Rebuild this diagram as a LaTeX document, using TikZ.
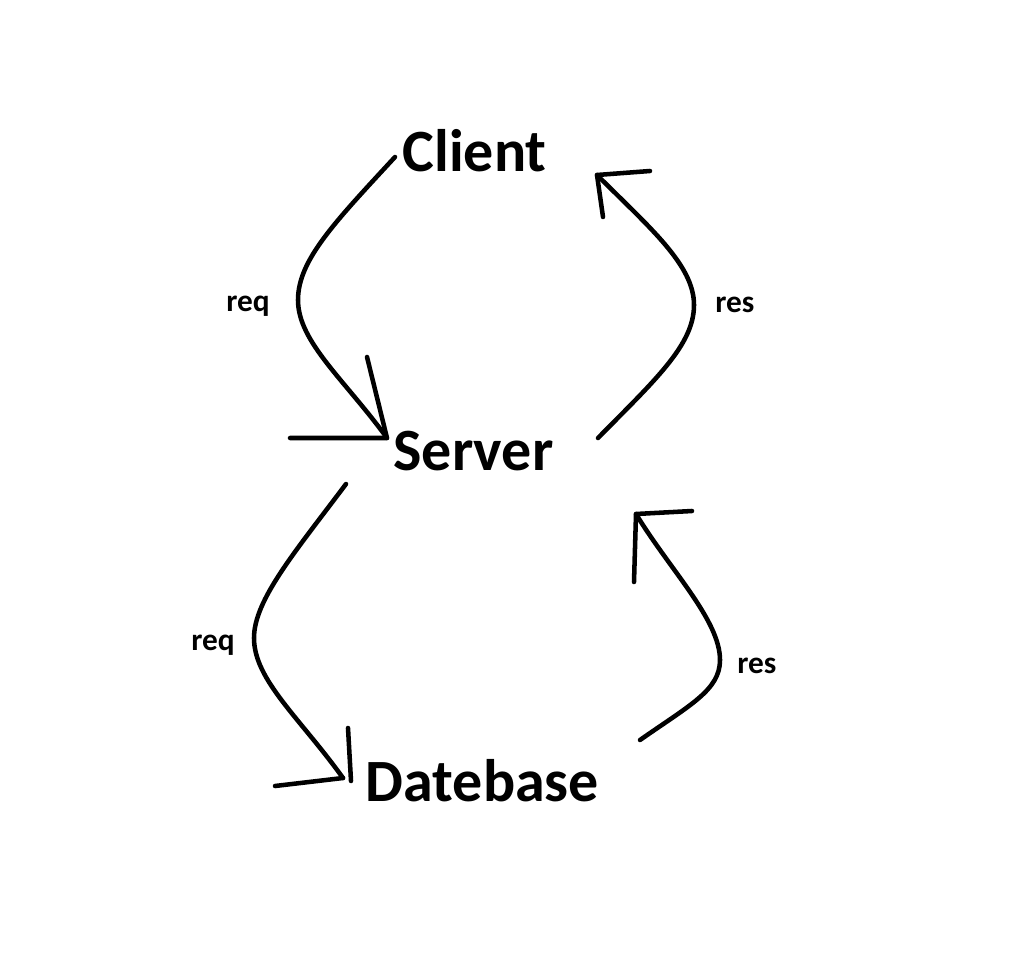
\documentclass[tikz,border=0pt]{standalone}
\usepackage{fontspec}
\setmainfont{Carlito}
\usetikzlibrary{positioning, calc}

\begin{document}
\begin{tikzpicture}[x=0.75pt,y=0.75pt,yscale=-1,xscale=1]
\tikzset{
	hand/.style={line width=3.4pt, line cap=round, line join=round},
	bigname/.style={anchor=base, inner sep=0pt, font=\fontsize{45}{50}\selectfont\bfseries},
	msglabel/.style={anchor=base west, inner sep=0pt, font=\fontsize{23.5}{26}\selectfont\bfseries}
}
%set diagram to the size of the reference
\useasboundingbox (0,0) rectangle (1016,980);

% Text Nodes
\node [bigname] (client) at (474.5,172) {Client};
\node [bigname] (server) at (473.5,470) {Server};
\node [bigname] (datebase) at (482.5,801) {Datebase};

\node [msglabel] (reqtop) at (226,311) {req};
\node [msglabel] (restop) at (715,312) {res};
\node [msglabel] (reqbot) at (191,650) {req};
\node [msglabel] (resbot) at (737,673) {res};

% ends of the curves
\coordinate (clientout) at (395,157);
\coordinate (serverin) at (387,438);
\coordinate (serverout) at (598,438);
\coordinate (clientin) at (597,175);
\coordinate (serverdown) at (346,484);
\coordinate (dbin) at (343,778);
\coordinate (dbout) at (640,740);
\coordinate (serverup) at (636,514);

%Curve: client to server
\draw [hand] (clientout) .. controls (335,222) and (298,260) .. (298,300) .. controls (298,342) and (345,380) .. (serverin);
\draw [hand] (367,357) -- (serverin) -- (290,438);

%Curve: server to client
\draw [hand] (serverout) .. controls (655,380) and (694,345) .. (694,305) .. controls (694,265) and (650,228) .. (clientin);
\draw [hand] (603,217) -- (clientin) -- (650,171);

%Curve: server to datebase
\draw [hand] (serverdown) .. controls (295,552) and (254,600) .. (254,638) .. controls (254,680) and (300,718) .. (dbin);
\draw [hand] (348,728) -- (351,781);
\draw [hand] (275,786) -- (dbin);

%Curve: datebase to server
\draw [hand] (dbout) .. controls (690,705) and (720,690) .. (720,660) .. controls (720,620) and (670,570) .. (serverup);
\draw [hand] (634,582) -- (serverup) -- (692,511);

\end{tikzpicture}
\end{document}
